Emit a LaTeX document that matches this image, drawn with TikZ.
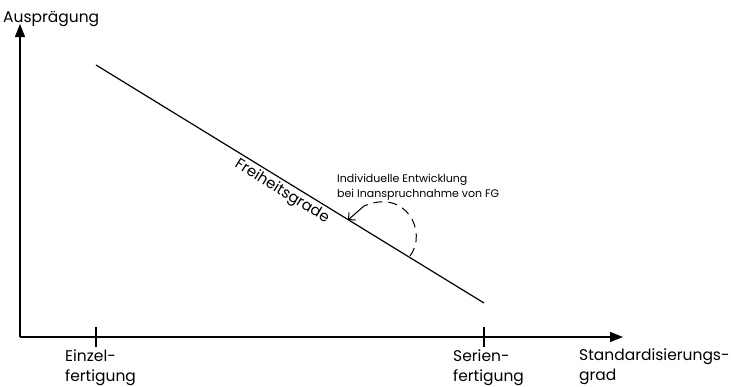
\documentclass[tikz,border=0pt]{standalone}
\usepackage{fontspec}
\setmainfont{Poppins}
\usetikzlibrary{arrows.meta}
\begin{document}
\begin{tikzpicture}[x=1pt,y=-1pt,
  axis/.style={line width=1.3pt,-{Triangle[length=13pt,width=10pt]}},
  lbl/.style={font=\fontsize{15.5}{20}\selectfont,inner sep=0pt,align=left},
  small/.style={font=\fontsize{11}{15}\selectfont,inner sep=0pt,align=left},
  tick/.style={line width=1.1pt}]
\useasboundingbox (0,0) rectangle (731,386);
\coordinate (O) at (20,337);
\coordinate (Ytip) at (20,24);
\coordinate (Xtip) at (623,337);
\draw[axis] (O) -- (Ytip);
\draw[axis] (O) -- (Xtip);
\coordinate (t1a) at (96,327); \coordinate (t1b) at (96,347);
\coordinate (t2a) at (484,327); \coordinate (t2b) at (484,347);
\draw[tick] (t1a) -- (t1b);
\draw[tick] (t2a) -- (t2b);
\coordinate (L1) at (96,65);
\coordinate (L2) at (484,303);
\draw[line width=1.2pt] (L1) -- (L2);
\node[lbl,anchor=base west] (yl) at (3,22) {Ausprägung};
\node[lbl,anchor=base west] (e1) at (65,381) {Einzel-\\fertigung};
\node[lbl,anchor=base west] (s1) at (453,381) {Serien-\\fertigung};
\node[lbl,anchor=base west] (xl) at (579,380) {Standardisierungs-\\grad};
\node[font=\fontsize{15}{17}\selectfont,inner sep=0pt,rotate=-31.5,anchor=north] (fg) at (286,185) {Freiheitsgrade};
\node[small,anchor=base west] (ann) at (337,197) {Individuelle Entwicklung\\bei Inanspruchnahme von FG};
\coordinate (a1) at (410,256);
\coordinate (a2) at (364,206);
\coordinate (a3) at (348,220);
\draw[line width=1pt,dash pattern=on 9pt off 6pt] (a1) .. controls (428,232) and (406,188) .. (a2);
\draw[line width=1pt,-{Straight Barb[length=5pt,width=10pt]}] (a2) -- (a3);
\end{tikzpicture}
\end{document}
